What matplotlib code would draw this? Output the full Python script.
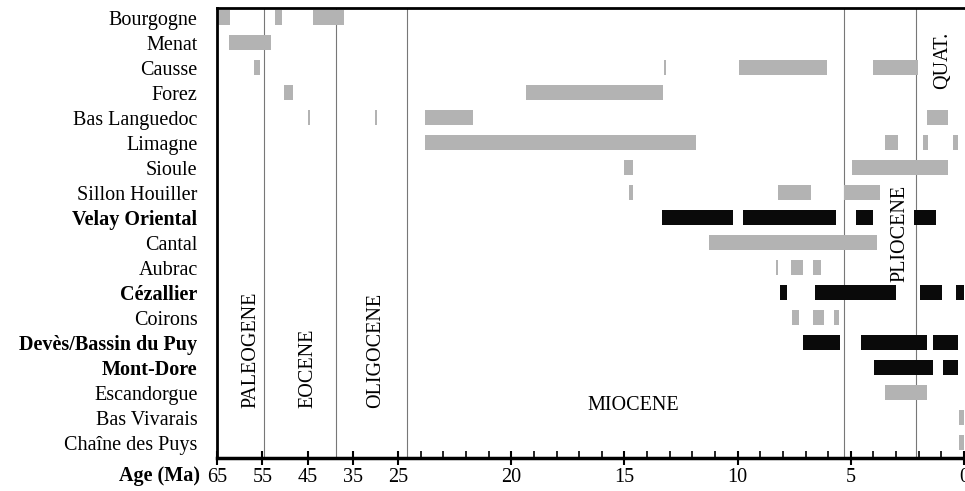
import numpy as np
import matplotlib
matplotlib.use("Agg")
import matplotlib.pyplot as plt

# ---------------- data ----------------
regions = ["Bourgogne", "Menat", "Causse", "Forez", "Bas Languedoc", "Limagne",
           "Sioule", "Sillon Houiller", "Velay Oriental", "Cantal", "Aubrac",
           "Cézallier", "Coirons", "Devès/Bassin du Puy", "Mont-Dore",
           "Escandorgue", "Bas Vivarais", "Chaîne des Puys"]
black_regions = ["Velay Oriental", "Cézallier", "Devès/Bassin du Puy", "Mont-Dore"]

# activity intervals (old age, young age) in Ma
intervals = {
    "Bourgogne": [(65.0, 62.1), (52.2, 50.6), (43.9, 37.0)],
    "Menat": [(62.4, 53.1)],
    "Causse": [(56.9, 55.6), (13.25, 13.15), (9.95, 6.05), (4.0, 2.05)],
    "Forez": [(50.1, 48.3), (19.36, 13.3)],
    "Bas Languedoc": [(44.8, 44.4), (30.1, 29.7), (23.8, 21.7), (1.63, 0.69)],
    "Limagne": [(23.8, 11.83), (3.48, 2.9), (1.82, 1.6), (0.47, 0.25)],
    "Sioule": [(15.0, 14.62), (4.95, 0.72)],
    "Sillon Houiller": [(14.8, 14.62), (8.23, 6.75), (5.28, 3.7)],
    "Velay Oriental": [(13.33, 10.2), (9.78, 5.66), (4.76, 4.0), (2.19, 1.25)],
    "Cantal": [(11.26, 3.85)],
    "Aubrac": [(8.3, 8.2), (7.63, 7.13), (6.67, 6.32)],
    "Cézallier": [(8.14, 7.82), (6.58, 3.0), (1.94, 0.98), (0.35, 0.0)],
    "Coirons": [(7.6, 7.3), (6.69, 6.2), (5.76, 5.54)],
    "Devès/Bassin du Puy": [(7.13, 5.47), (4.55, 1.65), (1.38, 0.28)],
    "Mont-Dore": [(3.97, 1.38), (0.94, 0.28)],
    "Escandorgue": [(3.5, 1.65)],
    "Bas Vivarais": [(0.23, 0.0)],
    "Chaîne des Puys": [(0.23, 0.0)],
}

boundaries = [54.7, 38.7, 24.6, 5.3, 2.1]
major_ticks = [65, 55, 45, 35, 25, 20, 15, 10, 5, 0]
minor_ticks = [a for a in range(1, 25) if a % 5 != 0]

# ---------------- style ----------------
plt.rcParams['font.family'] = ['Liberation Serif', 'DejaVu Serif']
FS = 14.5
GRAY = '#b3b3b3'
BLACK = '#0a0a0a'


def forward(a):
    a = np.asarray(a, dtype=float)
    return np.where(a <= 25, a, 25 + (a - 25) / 5.0)


def inverse(p):
    p = np.asarray(p, dtype=float)
    return np.where(p <= 25, p, 25 + (p - 25) * 5.0)


fig = plt.figure(figsize=(9.65, 4.91), dpi=100)
ax = fig.add_axes([217 / 965, 1 - 458 / 491, (964 - 217) / 965, (458 - 8) / 491])
ax.set_xscale('function', functions=(forward, inverse))
ax.set_xlim(65, 0)
ax.set_ylim(len(regions) - 0.4, -0.4)

for b in boundaries:
    ax.axvline(b, color='#777777', lw=0.8, zorder=1)

for i, r in enumerate(regions):
    col = BLACK if r in black_regions else GRAY
    for old, young in intervals[r]:
        ax.barh(i, old - young, left=young, height=0.6, color=col,
                edgecolor='none', zorder=2)

ax.set_yticks(range(len(regions)))
ax.set_yticklabels(regions, fontsize=FS)
for lab, r in zip(ax.get_yticklabels(), regions):
    if r in black_regions:
        lab.set_fontweight('bold')
ax.tick_params(axis='y', length=0, pad=14)

ax.set_xticks(major_ticks)
ax.set_xticklabels([str(t) for t in major_ticks], fontsize=FS)
ax.set_xticks(minor_ticks, minor=True)
ax.tick_params(axis='x', which='major', direction='inout', length=10, width=1.5, pad=2)
ax.tick_params(axis='x', which='minor', direction='in', length=5, width=1.2)

for s in ['top', 'left']:
    ax.spines[s].set_linewidth(2)
ax.spines['bottom'].set_linewidth(2.5)
ax.spines['right'].set_visible(False)

# period labels
yb = (408 - 8) / 25 - 0.4
ax.text(57.5, yb, 'PALEOGENE', rotation=90, ha='center', va='bottom', fontsize=FS)
ax.text(45.0, yb, 'EOCENE', rotation=90, ha='center', va='bottom', fontsize=FS)
ax.text(30.0, yb, 'OLIGOCENE', rotation=90, ha='center', va='bottom', fontsize=FS)
ax.text(14.6, 15.5, 'MIOCENE', ha='center', va='center', fontsize=FS)
ax.text(2.85, (282 - 8) / 25 - 0.4, 'PLIOCENE', rotation=90, ha='center', va='bottom', fontsize=FS)
ax.text(0.95, (32 - 8) / 25 - 0.4, 'QUAT.', rotation=90, ha='center', va='top', fontsize=FS)

fig.text(200 / 965, 1 - 476 / 491, 'Age (Ma)', ha='right', va='center',
         fontsize=FS, fontweight='bold')

fig.savefig('out.png', dpi=100)
